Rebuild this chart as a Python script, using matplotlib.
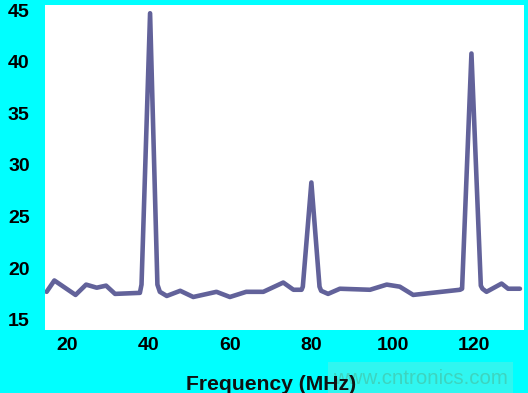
import matplotlib
matplotlib.use('Agg')
import matplotlib.pyplot as plt

# spectrum: frequency (MHz) and level
freq = [15.0, 16.9, 22.1, 24.7, 27.3, 29.6, 31.8, 37.9, 38.3,
        40.4, 42.2, 42.8,
        44.5, 47.8, 51.0, 56.7, 60.0, 64.0, 68.2, 73.1, 75.6, 77.6, 77.9,
        80.0, 82.0, 82.4,
        84.1, 87.0, 94.4, 98.5, 101.7, 105.0, 116.5, 117.0,
        119.3, 121.6, 122.0,
        123.0, 126.7, 128.3, 131.2]
level = [17.7, 18.8, 17.4, 18.4, 18.1, 18.3, 17.5, 17.6, 18.4,
         44.7, 18.4, 17.7,
         17.3, 17.8, 17.2, 17.7, 17.2, 17.7, 17.7, 18.6, 17.9, 17.9, 18.2,
         28.3, 18.2, 17.8,
         17.5, 18.0, 17.9, 18.4, 18.2, 17.4, 17.9, 18.0,
         40.8, 18.3, 18.0,
         17.7, 18.5, 18.0, 18.0]

xticks = [20, 40, 60, 80, 100, 120]
yticks = [15, 20, 25, 30, 35, 40, 45]

bg = '#00ffff'
line_color = '#62629a'

fig = plt.figure(figsize=(5.28, 3.93), dpi=100)
fig.patch.set_facecolor(bg)
ax = fig.add_axes([0.0852, 0.1603, 0.9072, 0.827])
ax.set_facecolor('white')

ax.plot(freq, level, color=line_color, lw=3.3,
        solid_joinstyle='round', solid_capstyle='round')

ax.set_xlim(14.6, 132.2)
ax.set_ylim(14.0, 45.5)
ax.set_xticks(xticks)
ax.set_yticks(yticks)
for s in ax.spines.values():
    s.set_visible(False)
ax.tick_params(length=0, labelsize=14)
ax.tick_params(axis='y', pad=11)
ax.tick_params(axis='x', pad=5)
for lab in ax.get_xticklabels() + ax.get_yticklabels():
    lab.set_fontweight('bold')
    lab.set_fontfamily('Liberation Sans')

# watermark band
fig.patches.append(plt.Rectangle((328 / 528, 0), 185 / 528, 31 / 393,
                                 transform=fig.transFigure,
                                 facecolor='#30f6f0', edgecolor='none', zorder=0))
fig.text(420 / 528, 15 / 393, 'www.cntronics.com', color='#3dd4bf',
         fontsize=14.8, family='Liberation Sans', ha='center', va='center')

fig.text(271 / 528, 9 / 393, 'Frequency (MHz)', fontsize=15.2,
         fontweight='bold', family='Liberation Sans',
         ha='center', va='center', color='#111111')

fig.savefig('out.png', dpi=100, facecolor=bg)
